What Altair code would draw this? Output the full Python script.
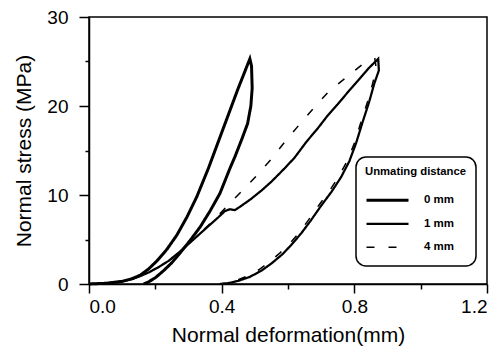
import altair as alt
import pandas as pd

# ---- data ----
series_names = ["0 mm", "1 mm", "4 mm"]

x_0mm = [0.0, 0.05, 0.10, 0.13, 0.155, 0.18, 0.205, 0.235, 0.265, 0.295, 0.325, 0.36, 0.39, 0.42, 0.45, 0.485,
         0.490, 0.492, 0.488, 0.478, 0.46, 0.44, 0.425, 0.395, 0.365, 0.335, 0.305, 0.275, 0.25, 0.225, 0.20, 0.18, 0.165]
y_0mm = [0.0, 0.08, 0.3, 0.6, 1.0, 1.7, 2.6, 3.9, 5.5, 7.5, 9.8, 13.0, 16.0, 19.0, 22.0, 25.3,
         24.5, 22.0, 20.0, 18.0, 16.2, 14.3, 13.0, 10.2, 8.2, 6.4, 4.9, 3.5, 2.4, 1.5, 0.7, 0.25, 0.0]

x_1mm = [0.0, 0.05, 0.10, 0.13, 0.155, 0.18, 0.21, 0.24, 0.27, 0.30, 0.33, 0.36, 0.39, 0.41, 0.425, 0.44, 0.46,
         0.49, 0.52, 0.55, 0.59, 0.62, 0.656, 0.69, 0.717, 0.75, 0.777, 0.81, 0.842, 0.872,
         0.874, 0.86, 0.845, 0.825, 0.805, 0.785, 0.76, 0.73, 0.70, 0.67, 0.64, 0.61, 0.585, 0.55, 0.52, 0.485,
         0.45, 0.42, 0.395]
y_1mm = [0.0, 0.06, 0.28, 0.55, 0.9, 1.3, 1.9, 2.6, 3.5, 4.5, 5.5, 6.5, 7.5, 8.2, 8.4, 8.3, 8.8,
         9.6, 10.5, 11.5, 13.0, 14.2, 16.0, 17.5, 18.8, 20.2, 21.4, 22.8, 24.2, 25.3,
         24.0, 22.5, 20.5, 18.2, 15.8, 13.8, 12.0, 10.3, 8.8, 7.2, 5.7, 4.4, 3.4, 2.3, 1.5, 0.8,
         0.35, 0.1, 0.0]

x_4mm = [0.0, 0.05, 0.10, 0.13, 0.155, 0.18, 0.21, 0.24, 0.27, 0.30, 0.33, 0.36, 0.39, 0.415, 0.46,
         0.506, 0.551, 0.591, 0.634, 0.676, 0.722, 0.772, 0.822, 0.862,
         0.866, 0.855, 0.84, 0.82, 0.80, 0.778, 0.752, 0.722, 0.692, 0.662, 0.632, 0.602, 0.576, 0.542,
         0.512, 0.478, 0.445, 0.418, 0.395]
y_4mm = [0.0, 0.06, 0.28, 0.55, 0.9, 1.3, 1.9, 2.6, 3.5, 4.5, 5.5, 6.6, 7.7, 8.7, 10.4,
         12.2, 14.1, 16.0, 17.9, 19.7, 21.6, 23.1, 24.6, 25.3,
         24.2, 22.5, 20.5, 18.2, 15.8, 13.8, 12.0, 10.3, 8.8, 7.2, 5.7, 4.4, 3.5, 2.4,
         1.6, 0.9, 0.4, 0.12, 0.0]

x_ticks = [0.0, 0.2, 0.4, 0.6, 0.8, 1.0, 1.2]
y_ticks = [0, 5, 10, 15, 20, 25, 30]

rows = []
for name, xs, ys in zip(series_names, [x_0mm, x_1mm, x_4mm], [y_0mm, y_1mm, y_4mm]):
    for i, (xv, yv) in enumerate(zip(xs, ys)):
        rows.append({"series": name, "idx": i, "x": xv, "y": yv})
df = pd.DataFrame(rows)

FONT = "Liberation Sans"

legend_spec = alt.Legend(
    title="Unmating distance",
    orient="none",
    legendX=267,
    legendY=140,
    strokeColor="black",
    cornerRadius=10,
    padding=9,
    symbolType="stroke",
    symbolSize=1764,
    symbolStrokeColor="black",
    clipHeight=18,
    rowPadding=5.5,
    labelOffset=14,
    titleFont=FONT,
    titleFontSize=11.3,
    titleFontWeight="bold",
    titlePadding=14,
    labelFont=FONT,
    labelFontSize=11.5,
    labelFontWeight="bold",
    labelColor="black",
    titleColor="black",
)

chart = alt.Chart(df).mark_line(color="black", strokeCap="butt").encode(
    x=alt.X("x:Q",
            scale=alt.Scale(domain=[0, 1.2], nice=False),
            axis=alt.Axis(title="Normal deformation(mm)", values=x_ticks,
                          labelExpr="round(datum.value*10) % 4 == 0 ? format(datum.value, '.1f') : ''",
                          tickSize={"condition": {"test": "round(datum.value*10) % 4 != 0", "value": 5}, "value": 9},
                          labelPadding=4, titlePadding=8)),
    y=alt.Y("y:Q",
            scale=alt.Scale(domain=[0, 30], nice=False),
            axis=alt.Axis(title="Normal stress (MPa)", values=y_ticks,
                          labelExpr="datum.value % 10 == 0 ? datum.label : ''",
                          tickSize={"condition": {"test": "datum.value % 10 != 0", "value": 4}, "value": 10},
                          labelPadding=11, titlePadding=12)),
    detail="series:N",
    order="idx:Q",
    strokeDash=alt.StrokeDash("series:N",
                              scale=alt.Scale(domain=series_names, range=[[1, 0], [1, 0], [8, 14]]),
                              legend=legend_spec),
    strokeWidth=alt.StrokeWidth("series:N",
                                scale=alt.Scale(domain=series_names, range=[3, 1.5, 1.5]),
                                legend=legend_spec),
).properties(
    width=398,
    height=267,
    autosize=alt.AutoSizeParams(type="none"),
    padding={"left": 89, "top": 17, "right": 14, "bottom": 77},
).configure_view(
    stroke="black", strokeWidth=1.5
).configure_axis(
    domainColor="black", domainWidth=1.5, tickColor="black", tickWidth=1.5,
    labelFont=FONT, labelFontSize=19, labelColor="black",
    titleFont=FONT, titleFontSize=21, titleFontWeight="normal", titleColor="black",
    grid=False,
).configure_legend(
    strokeWidth=1.5
)

chart.save("out.html", embed_options={"renderer": "svg", "actions": False})
